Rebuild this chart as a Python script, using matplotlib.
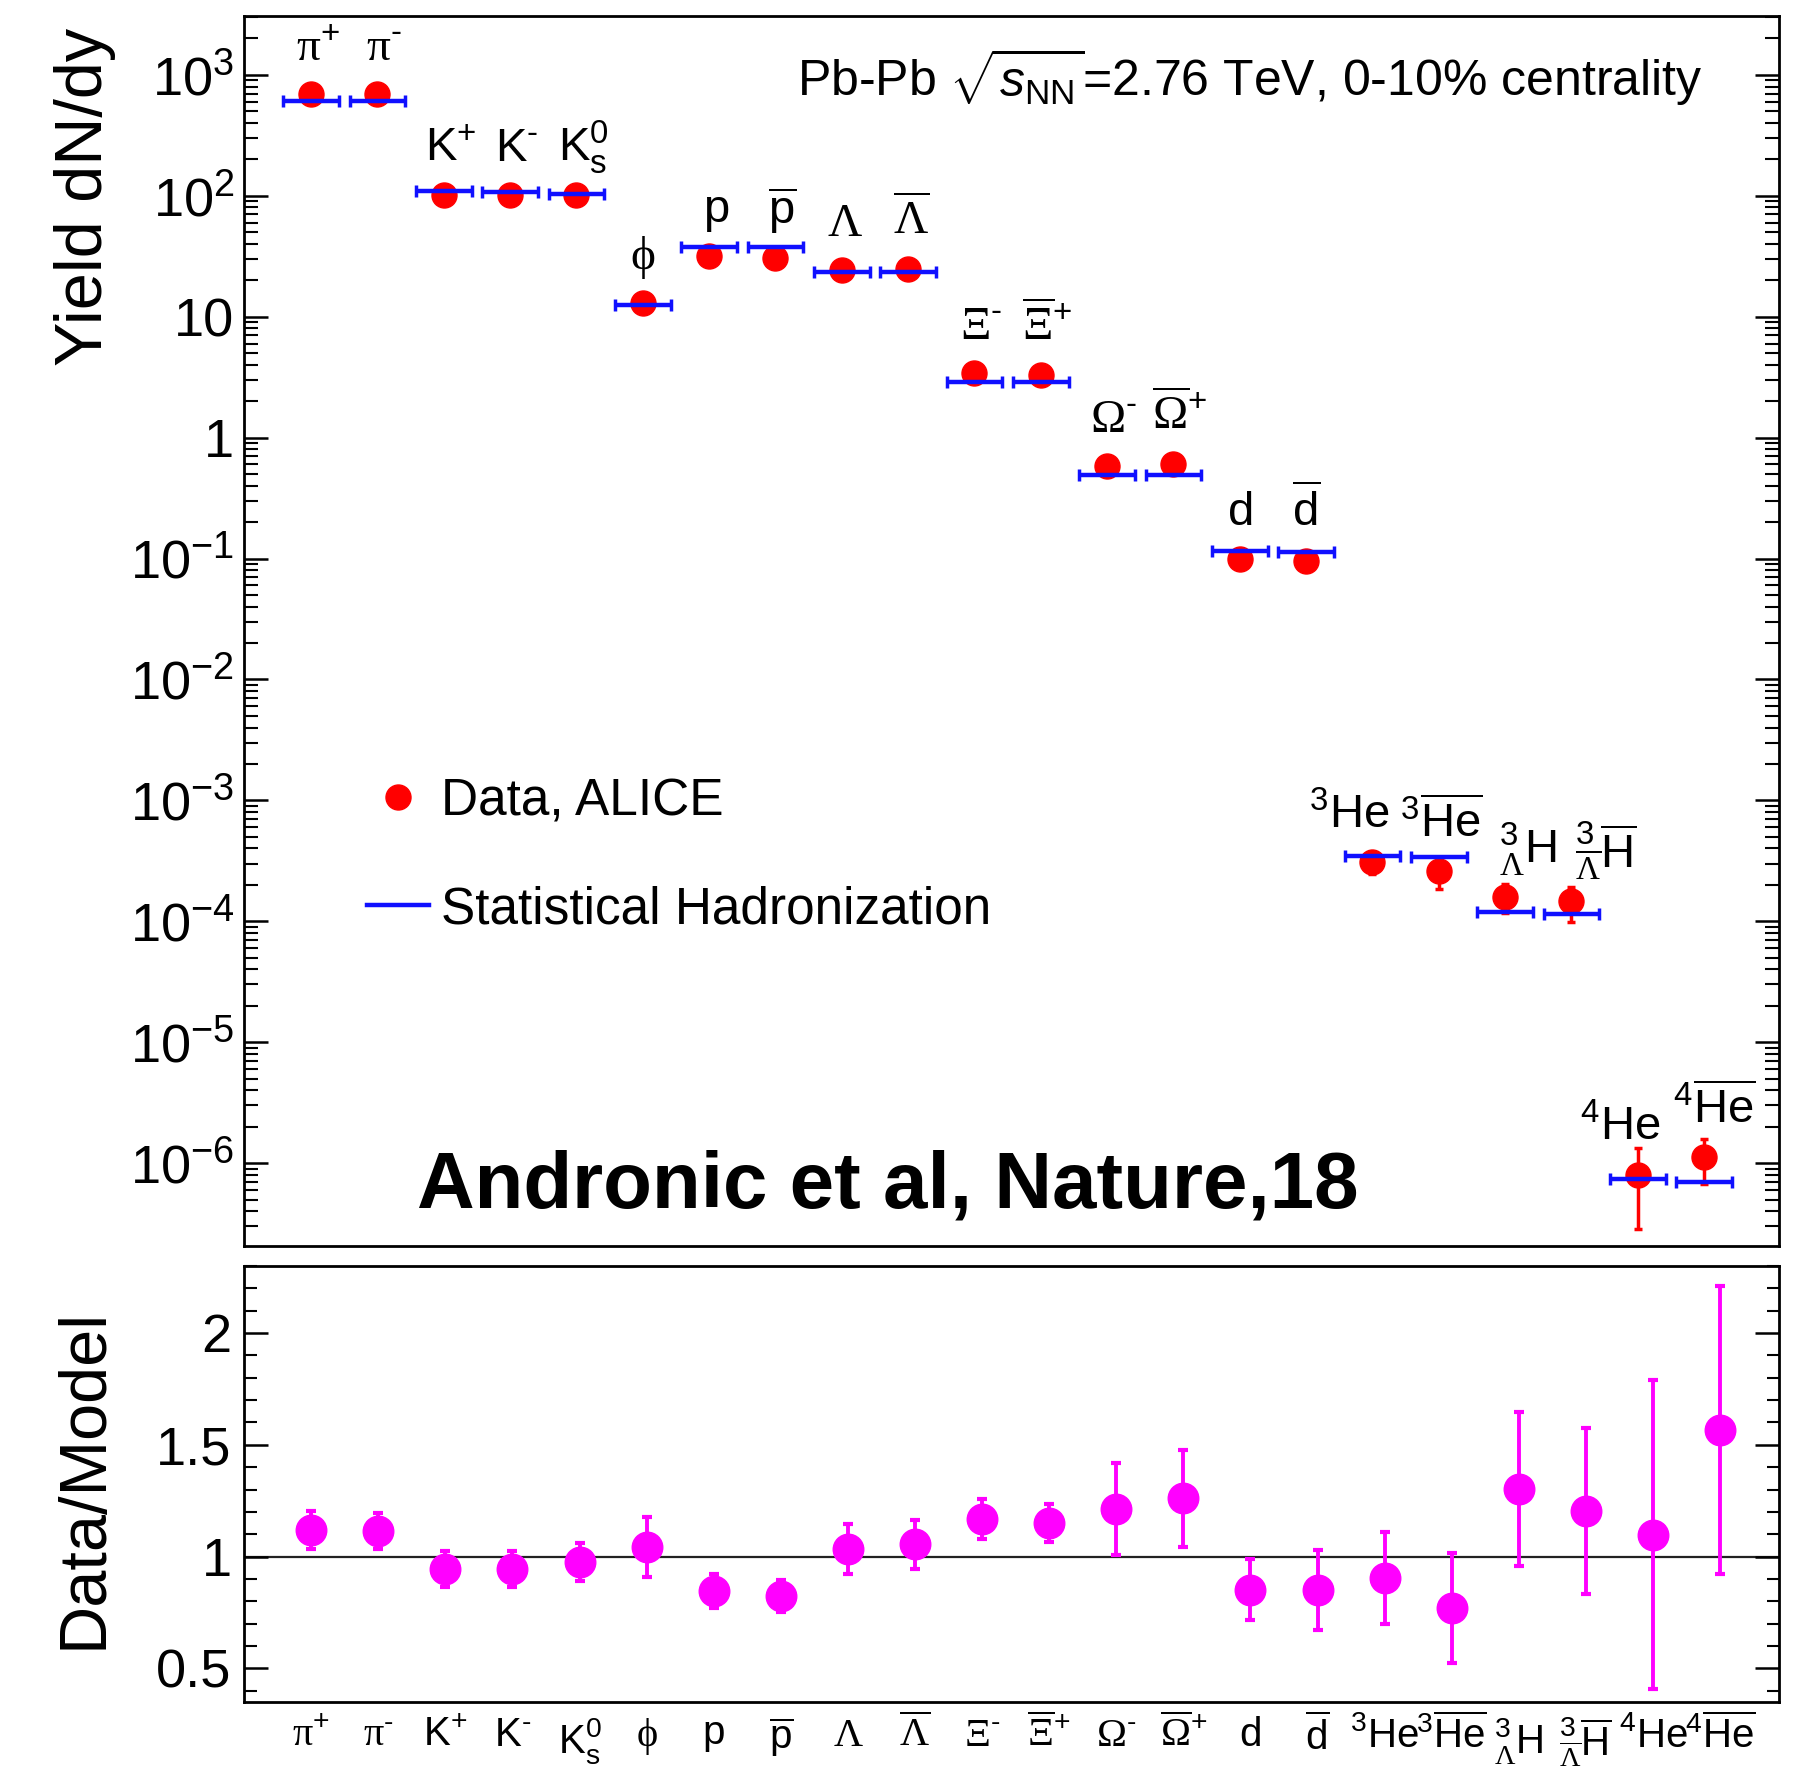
import numpy as np
import matplotlib
matplotlib.use("Agg")
import matplotlib.pyplot as plt
from matplotlib.lines import Line2D
from matplotlib.ticker import FuncFormatter, FixedLocator, LogLocator, MultipleLocator, NullFormatter

# ============================================================
# Data
# ============================================================

particles = [
    r'$\mathsf{\pi}^{+}$', r'$\mathsf{\pi}^{\text{-}}$',
    r'$\mathrm{K}^{+}$', r'$\mathrm{K}^{\text{-}}$', r'$\mathrm{K}^{0}_{\mathrm{s}}$',
    r'$\mathsf{\phi}$',
    r'$\mathrm{p}$', r'$\overline{\mathrm{p}}$',
    r'$\mathsf{\Lambda}$', r'$\overline{\mathsf{\Lambda}}$',
    r'$\mathsf{\Xi}^{\text{-}}$', r'$\overline{\mathsf{\Xi}}^{+}$',
    r'$\mathsf{\Omega}^{\text{-}}$', r'$\overline{\mathsf{\Omega}}^{+}$',
    r'$\mathrm{d}$', r'$\overline{\mathrm{d}}$',
    r'${}^{3}\mathrm{He}$', r'${}^{3}\overline{\mathrm{He}}$',
    r'${}^{3}_{\mathsf{\Lambda}}\mathrm{H}$',
    r'${}^{3}_{\overline{\mathsf{\Lambda}}}\overline{\mathrm{H}}$',
    r'${}^{4}\mathrm{He}$', r'${}^{4}\overline{\mathrm{He}}$',
]

yield_data = [690, 690, 102, 102, 102, 12.9, 31.8, 30.5, 24.5, 25.0,
              3.40, 3.32, 0.587, 0.61, 0.099, 0.0955,
              3.08e-4, 2.59e-4, 1.60e-4, 1.46e-4, 8.05e-7, 1.12e-6]
yield_err = [20, 20, 4, 4, 4, 1.0, 1.5, 1.5, 1.2, 1.2,
             0.15, 0.15, 0.04, 0.04, 0.008, 0.009,
             0.6e-4, 0.75e-4, 0.42e-4, 0.47e-4, 0.52e-6, 0.45e-6]
yield_model = [605, 605, 109, 108, 104, 12.4, 38.0, 38.0, 23.4, 23.4,
               2.91, 2.91, 0.492, 0.492, 0.1156, 0.113,
               3.44e-4, 3.39e-4, 1.20e-4, 1.15e-4, 7.37e-7, 7.0e-7]

ratio = [1.118, 1.113, 0.946, 0.943, 0.974, 1.042, 0.846, 0.824, 1.035, 1.055,
         1.167, 1.152, 1.212, 1.26, 0.852, 0.85,
         0.903, 0.77, 1.302, 1.203, 1.098, 1.565]
ratio_err = [0.084, 0.08, 0.081, 0.08, 0.085, 0.135, 0.075, 0.073, 0.111, 0.11,
             0.09, 0.085, 0.207, 0.217, 0.137, 0.18,
             0.205, 0.244, 0.345, 0.37, 0.69, 0.645]

# label shifts (in bin units) for the crowded nuclei labels
label_dx = [0.1, 0.1, 0.1, 0.1, 0.1, 0, 0.1, 0.1, 0.05, 0.05,
            0.1, 0.1, 0.1, 0.1, 0.0, 0.0,
            -0.35, 0.03, 0.35, 0.52, -0.26, 0.16]

yield_ticks = [1e-6, 1e-5, 1e-4, 1e-3, 1e-2, 1e-1, 1, 10, 100, 1000]
ratio_ticks = [0.5, 1.0, 1.5, 2.0]

x = np.arange(len(particles))

# ============================================================
# Style
# ============================================================

plt.rcParams['font.family'] = ['Liberation Sans', 'DejaVu Sans']
plt.rcParams['mathtext.fontset'] = 'custom'
plt.rcParams['mathtext.rm'] = 'Liberation Sans'
plt.rcParams['mathtext.it'] = 'Liberation Sans:italic'
plt.rcParams['mathtext.bf'] = 'Liberation Sans:bold'
plt.rcParams['mathtext.sf'] = 'Liberation Serif'

fig = plt.figure(figsize=(18.08, 17.71), dpi=100)
ax1 = fig.add_axes([0.135, 0.2964, 0.849, 0.6945])
ax2 = fig.add_axes([0.135, 0.039, 0.849, 0.2462])

for ax in (ax1, ax2):
    for sp in ax.spines.values():
        sp.set_linewidth(2.0)

# ============================================================
# Top panel: yields
# ============================================================

ax1.set_yscale('log')
ax1.set_ylim(2.06e-7, 3060)
ax1.set_xlim(-1.01, 22.13)

ax1.errorbar(x, yield_model, xerr=0.42, fmt='none', ecolor='#1010ff',
             elinewidth=3.2, capsize=4, capthick=2.5, zorder=3)
ax1.errorbar(x, yield_data, yerr=yield_err, fmt='o', color='#ff0000',
             ms=18, elinewidth=2.5, capsize=3, capthick=2.5, zorder=2)

for xi, yi, lab, dx in zip(x, yield_data, particles, label_dx):
    ax1.text(xi + dx, yi * 10 ** 0.28, lab, ha='center', va='baseline',
             fontsize=34)

def log_fmt(v, pos):
    e = int(round(np.log10(v)))
    if e == 0:
        return '1'
    if e == 1:
        return '10'
    return r'$10^{%d}$' % e

ax1.yaxis.set_major_locator(FixedLocator(yield_ticks))
ax1.yaxis.set_minor_locator(LogLocator(base=10, subs=np.arange(2, 10), numticks=20))
ax1.yaxis.set_major_formatter(FuncFormatter(log_fmt))
ax1.yaxis.set_minor_formatter(NullFormatter())
ax1.tick_params(axis='y', which='both', direction='in', left=True, right=True,
                labelsize=39, pad=7)
ax1.tick_params(axis='y', which='major', length=17, width=1.8)
ax1.tick_params(axis='y', which='minor', length=10, width=1.5)
ax1.set_xticks([])

ax1.text(0.360, 0.935, r'Pb-Pb $\sqrt{s_{\mathrm{NN}}}$=2.76 TeV, 0-10% centrality',
         transform=ax1.transAxes, ha='left', va='baseline', fontsize=36)
ax1.text(0.1127, 0.031, 'Andronic et al, Nature,18', transform=ax1.transAxes,
         ha='left', va='baseline', fontsize=57.5, fontweight='bold')

handles = [Line2D([], [], ls='none', marker='o', color='#ff0000', ms=18),
           Line2D([], [], color='#1010ff', lw=3.2)]
ax1.legend(handles, ['Data, ALICE', 'Statistical Hadronization'],
           loc='center left', bbox_to_anchor=(0.08, 0.3175), frameon=False,
           fontsize=37, borderpad=0, borderaxespad=0, handlelength=1.2,
           handletextpad=0.25, labelspacing=1.15)

# ============================================================
# Bottom panel: data / model
# ============================================================

ax2.set_xlim(-1.0, 21.88)
ax2.set_ylim(0.35, 2.3)
ax2.axhline(1.0, color='#222222', lw=1.6, zorder=1)
ax2.errorbar(x, ratio, yerr=ratio_err, fmt='o', color='#ff00ff', ms=22,
             elinewidth=2.8, capsize=3.5, capthick=3, zorder=2)

ax2.yaxis.set_major_locator(FixedLocator(ratio_ticks))
ax2.yaxis.set_minor_locator(MultipleLocator(0.1))
ax2.yaxis.set_major_formatter(FuncFormatter(lambda v, p: ('%g' % v)))
ax2.tick_params(axis='y', which='both', direction='in', left=True, right=True,
                labelsize=39, pad=9)
ax2.tick_params(axis='y', which='major', length=17, width=1.8)
ax2.tick_params(axis='y', which='minor', length=9, width=1.5)
ax2.set_xticks(x)
ax2.set_xticklabels(particles)
ax2.tick_params(axis='x', length=0, pad=10, labelsize=29)

# axis titles
fig.text(0.047, 1 - 197 / 1771, 'Yield dN/dy', rotation=90, ha='center',
         va='center', fontsize=48)
fig.text(0.047, 1 - 1478 / 1771, 'Data/Model', rotation=90, ha='center',
         va='center', fontsize=48)

fig.savefig('out.png', dpi=100)
